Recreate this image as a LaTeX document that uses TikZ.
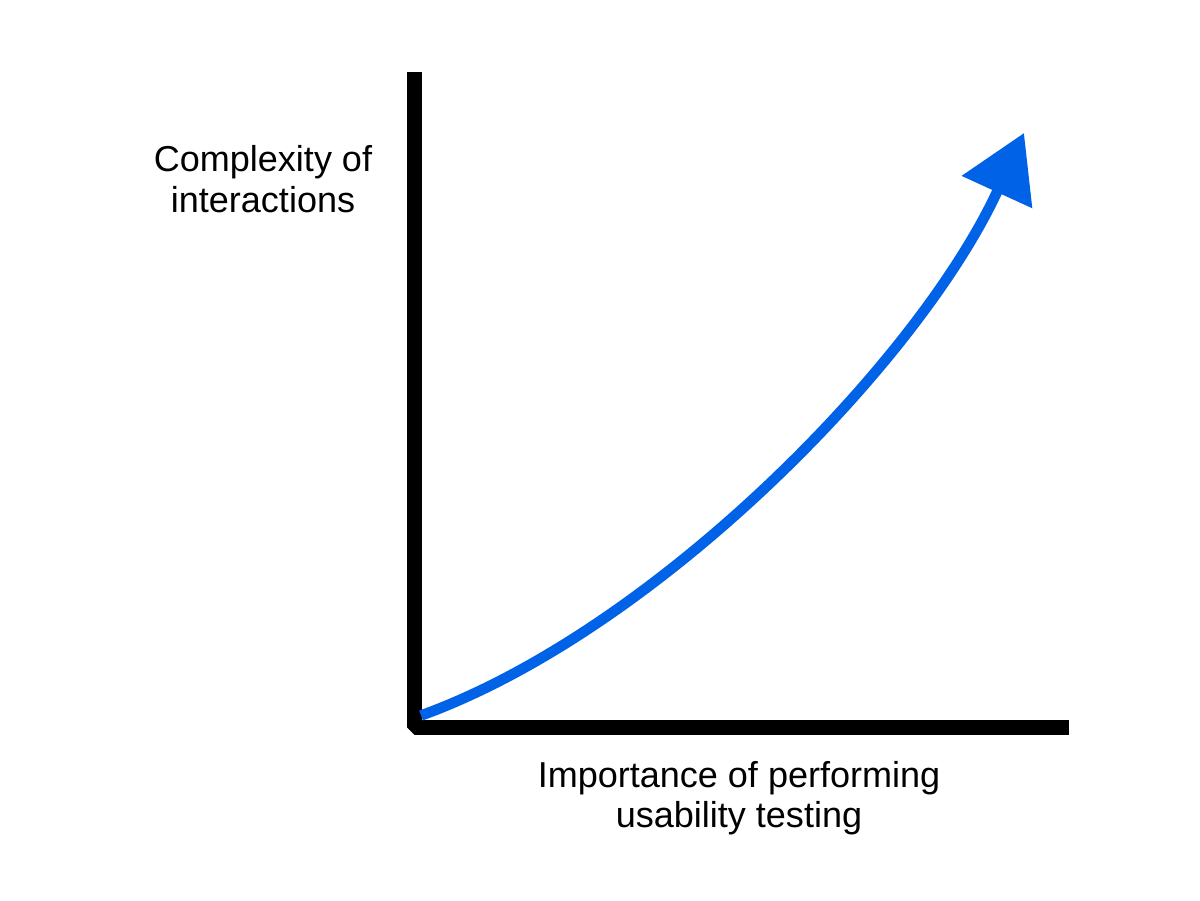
\documentclass[tikz,border=0pt]{standalone}
\usepackage{fontspec}
\setmainfont{Liberation Sans}
\usetikzlibrary{arrows.meta}
\definecolor{curveblue}{RGB}{0,98,230}
\begin{document}
\begin{tikzpicture}[
    x=0.02cm, y=-0.02cm,
    axisline/.style={line width=0.3cm, line join=bevel},
    trendline/.style={line width=0.21cm, draw=curveblue, -{Triangle[length=1.3cm, width=1.5cm, fill=curveblue]}},
    axislabel/.style={align=center, font=\fontsize{20.5}{23}\selectfont, inner sep=0pt}
  ]
  \useasboundingbox (0,0) rectangle (1200,900);
  \coordinate (Top) at (414.5,72);
  \coordinate (Corner) at (414.5,727.5);
  \coordinate (Right) at (1069,727.5);
  \coordinate (Start) at (421,715.5);
  \coordinate (Tip) at (1024,133);

  \draw[axisline] (Top) -- (Corner) -- (Right);
  \draw[trendline] (Start) .. controls (657,630) and (920,360) .. (Tip);

  \node[axislabel] (YLabel) at (263,179) {Complexity of\\interactions};
  \node[axislabel] (XLabel) at (739,798) {Importance of performing\\usability testing};
\end{tikzpicture}
\end{document}
